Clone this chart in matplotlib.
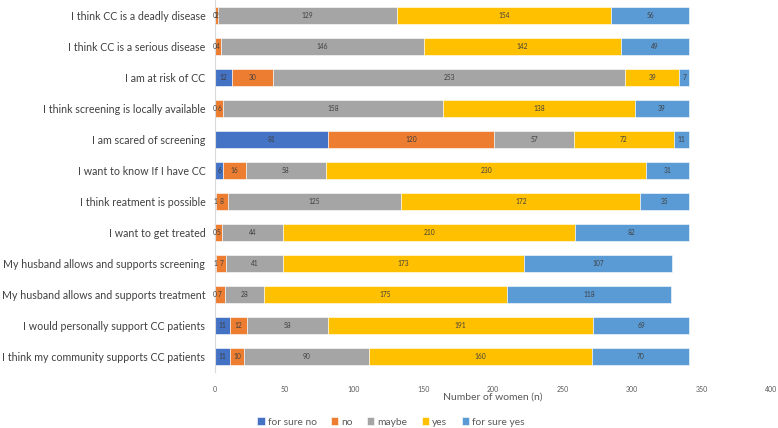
"""Stacked horizontal bars: attitudes towards cervical cancer (CC)."""

import matplotlib

matplotlib.use("Agg")
import matplotlib.pyplot as plt
import numpy as np

plt.rcParams["font.family"] = ["Lato", "DejaVu Sans"]

statements = [
    "I think CC is a deadly disease",
    "I think CC is a serious disease",
    "I am at risk of CC",
    "I think screening is locally available",
    "I am scared of screening",
    "I want to know If I have CC",
    "I think reatment is possible",
    "I want to get treated",
    "My husband allows and supports screening",
    "My husband allows and supports treatment",
    "I would personally support CC patients",
    "I think my community supports CC patients",
]

answers = ["for sure no", "no", "maybe", "yes", "for sure yes"]

for_sure_no = [0, 0, 12, 0, 81, 6, 1, 0, 1, 0, 11, 11]
no = [2, 4, 30, 6, 120, 16, 8, 5, 7, 7, 12, 10]
maybe = [129, 146, 253, 158, 57, 58, 125, 44, 41, 28, 58, 90]
yes = [154, 142, 39, 138, 72, 230, 172, 210, 173, 175, 191, 160]
for_sure_yes = [56, 49, 7, 39, 11, 31, 35, 82, 107, 118, 69, 70]

colors = ["#4472C4", "#ED7D31", "#A5A5A5", "#FFC000", "#5B9BD5"]

series = [for_sure_no, no, maybe, yes, for_sure_yes]

fig = plt.figure(figsize=(7.78, 4.28), dpi=100)
ax = fig.add_axes([215 / 778, 1 - 372 / 428, (771 - 215) / 778, 372 / 428])

y = np.arange(len(statements))
left = np.zeros(len(statements))
for name, values, color in zip(answers, series, colors):
    values = np.array(values)
    bars = ax.barh(y, values, left=left, height=0.58, color=color,
                   edgecolor="white", linewidth=0.4, label=name)
    for bar, v in zip(bars, values):
        ax.text(bar.get_x() + bar.get_width() / 2, bar.get_y() + bar.get_height() / 2,
                f"{v}", ha="center", va="center", fontsize=4.8, color="#404040")
    left += values

ax.set_yticks(y)
ax.set_yticklabels(statements, fontsize=7.7, color="#404040")
ax.set_ylim(len(statements) - 0.5, -0.5)
ax.set_xlim(0, 400)
ax.set_xticks(range(0, 401, 50))
ax.tick_params(axis="x", labelsize=5, colors="#595959", length=0, pad=10)
ax.tick_params(axis="y", length=0, pad=7)
ax.set_xlabel("Number of women (n)", fontsize=7.5, color="#595959", labelpad=0)

for side in ("top", "right", "bottom"):
    ax.spines[side].set_visible(False)
ax.spines["left"].set_color("#D9D9D9")
ax.spines["left"].set_linewidth(0.8)

fig.legend(loc="center", bbox_to_anchor=(391 / 778, 1 - 422 / 428), ncol=5,
           frameon=False, fontsize=7.4, handlelength=0.7, handleheight=0.7,
           handletextpad=0.3, columnspacing=1.4, labelcolor="#595959")

fig.savefig("out.png", dpi=100)
